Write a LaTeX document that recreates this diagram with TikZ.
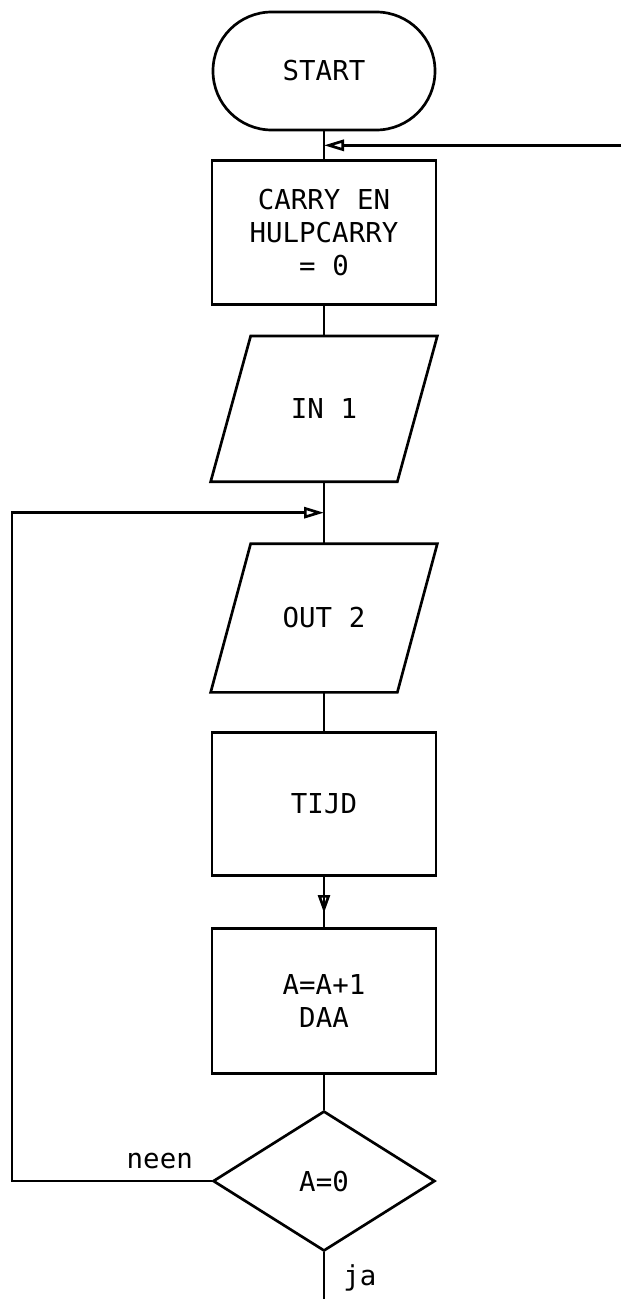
\documentclass[tikz,border=0pt]{standalone}
\usepackage{fontspec}
\newfontfamily\plotter{DejaVu Sans Mono}
\usetikzlibrary{positioning,arrows.meta,calc,shapes.geometric,decorations.markings}
\tikzset{
  lijn/.style       = {line width=1.9pt},
  blok/.style       = {draw, lijn, align=center, inner sep=0pt,
                       minimum width=56mm, minimum height=36mm,
                       font=\plotter\fontsize{19.5}{23.3}\selectfont},
  grens/.style      = {blok, rounded corners=14.7mm, minimum width=55.5mm, minimum height=29.5mm},
  invoer/.style     = {blok, draw=none, minimum height=35.75mm},
  keuze/.style      = {blok, diamond, minimum width=55.5mm, minimum height=35mm},
  tekst/.style      = {font=\plotter\fontsize{19.5}{23.3}\selectfont, inner sep=0pt},
  pijl/.style       = {lijn, -{Triangle[open, length=5mm, width=2.8mm]}},
  pijlmidden/.style = {lijn, postaction=decorate,
                       decoration={markings, mark=at position 0.72 with
                       {\arrow{Triangle[open, length=4.5mm, width=3mm]}}}}
}
\begin{document}
\begin{tikzpicture}[node distance=7mm]
    \useasboundingbox (0,0) rectangle (15.525,-32.475);
    \node[grens] (start) at (8.1,-1.775) {START};
    \node[blok, below=7mm of start] (carry) {CARRY EN\\HULPCARRY\\= 0};
    \node[invoer, below=7.5mm of carry] (in) {IN 1};
    \node[invoer, below=15.5mm of in, minimum height=36.5mm] (out) {OUT 2};
    \node[blok, below=9.75mm of out, minimum height=35.75mm] (tijd) {TIJD};
    \node[blok, below=12.5mm of tijd, minimum height=36.25mm] (som) {A=A+1\\DAA};
    \node[keuze, below=8.75mm of som] (test) {A=0};

    \draw[lijn] ($(in.north west)+(10mm,0)$) -- (in.north east)
        -- ($(in.south east)+(-10mm,0)$) -- (in.south west) -- cycle;
    \draw[lijn] ($(out.north west)+(10mm,0)$) -- (out.north east)
        -- ($(out.south east)+(-10mm,0)$) -- (out.south west) -- cycle;

    \coordinate (rechts) at (15.525,0);
    \coordinate (links) at (0.3,0);
    \coordinate (bodem) at (0,-32.475);
    \coordinate (terug1) at ($(start.south)!0.5!(carry.north)$);
    \coordinate (terug2) at ($(in.south)!0.5!(out.north)$);

    \draw[lijn] (start) -- (carry);
    \draw[lijn] (carry) -- (in);
    \draw[lijn] (in) -- (out);
    \draw[lijn] (out) -- (tijd);
    \draw[pijlmidden] (tijd) -- (som);
    \draw[lijn] (som) -- (test);
    \draw[lijn] (test) -- node[tekst, right=4.5mm, pos=0.55] (ja) {ja} (test.south |- bodem);
    \draw[pijl] (rechts |- terug1) -- (terug1);
    \draw[pijl] (test.west) -- node[tekst, above=2.75mm, pos=0.26] (neen) {neen}
        (links |- test.west) |- (terug2);
\end{tikzpicture}
\end{document}
